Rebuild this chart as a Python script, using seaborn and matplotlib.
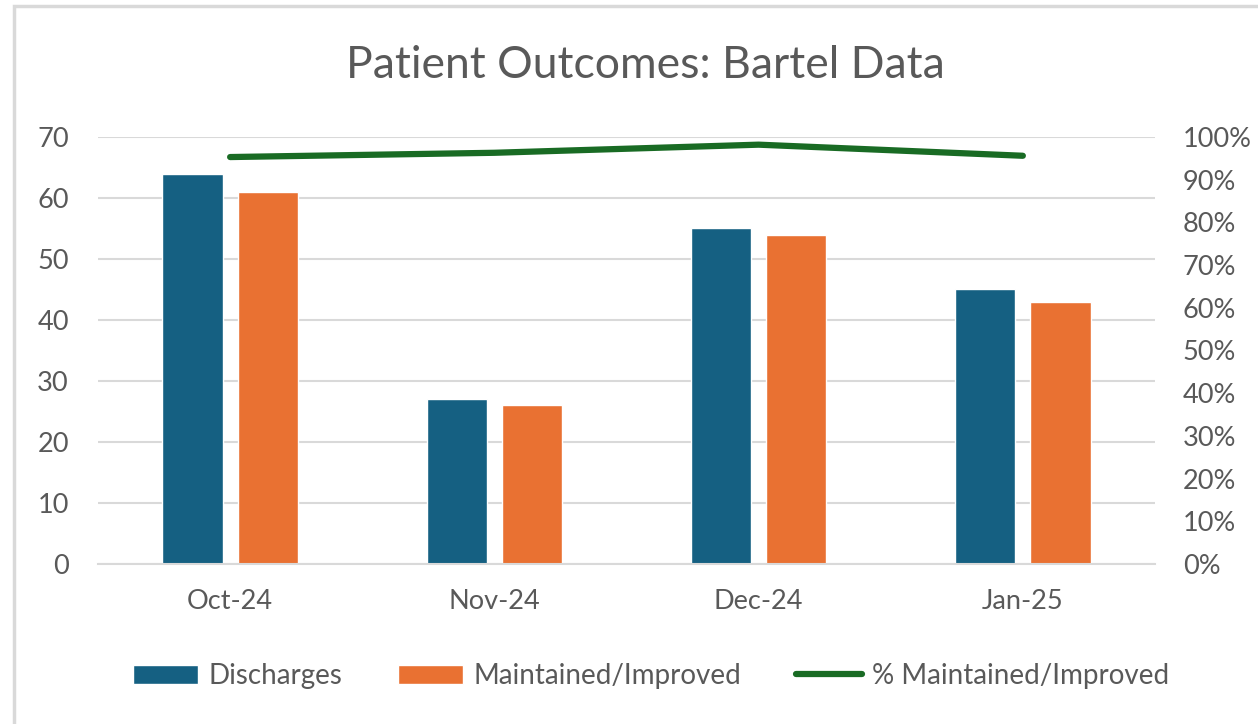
import pandas as pd
import matplotlib.pyplot as plt
import seaborn as sns
from matplotlib.patches import Rectangle, Patch
from matplotlib.lines import Line2D
from matplotlib.ticker import PercentFormatter, FixedLocator

# dados do gráfico
meses = ['Oct-24', 'Nov-24', 'Dec-24', 'Jan-25']
discharges = [64, 27, 55, 45]
maintained = [61, 26, 54, 43]
pct_maintained = [0.953, 0.963, 0.982, 0.956]

AZUL = '#156082'
LARANJA = '#E97132'
VERDE = '#196B24'
CINZA_TXT = '#595959'
CINZA_GRID = '#D9D9D9'

sns.set_theme(style='white')
plt.rcParams['font.family'] = ['Lato', 'DejaVu Sans']

df = pd.DataFrame({
    'Mes': meses * 2,
    'Valor': discharges + maintained,
    'Serie': ['Discharges'] * 4 + ['Maintained/Improved'] * 4,
})

fig = plt.figure(figsize=(12.58, 7.24), dpi=100)
ax = fig.add_axes([0.0779, 0.2210, 0.8402, 0.5898])

sns.barplot(data=df, x='Mes', y='Valor', hue='Serie', order=meses,
            palette={'Discharges': AZUL, 'Maintained/Improved': LARANJA},
            width=0.57, gap=0.2, saturation=1, ax=ax, legend=False)

ax.set_ylim(0, 70)
ax.set_xlim(-0.5, 3.5)
ax.set_yticks(range(0, 71, 10))
ax.set_xlabel('')
ax.set_ylabel('')
ax.yaxis.grid(True, color=CINZA_GRID, linewidth=1.5)
ax.set_axisbelow(True)
for lado in ['top', 'left', 'right']:
    ax.spines[lado].set_visible(False)
ax.spines['bottom'].set_color(CINZA_GRID)
ax.spines['bottom'].set_linewidth(1.5)
ax.tick_params(axis='y', length=0, pad=21, labelsize=19.5, labelcolor=CINZA_TXT)
ax.tick_params(axis='x', which='major', length=0, pad=18, labelsize=19.5, labelcolor=CINZA_TXT)
ax.xaxis.set_minor_locator(FixedLocator([-0.5, 0.5, 1.5, 2.5, 3.5]))
ax.tick_params(axis='x', which='minor', length=7, width=1.5, color=CINZA_GRID, direction='out')

# eixo secundário com a percentagem
ax2 = ax.twinx()
sns.lineplot(x=list(range(4)), y=pct_maintained, color=VERDE, linewidth=4.5,
             solid_capstyle='round', ax=ax2)
ax2.set_ylim(0, 1)
ax2.set_yticks([i / 10 for i in range(11)])
ax2.yaxis.set_major_formatter(PercentFormatter(1.0, decimals=0))
ax2.tick_params(axis='y', length=0, pad=20, labelsize=19.5, labelcolor=CINZA_TXT)
for lado in ['top', 'left', 'right', 'bottom']:
    ax2.spines[lado].set_visible(False)
ax2.grid(False)

fig.text(0.513, 0.91, 'Patient Outcomes: Bartel Data', ha='center', va='center',
         fontsize=32, color=CINZA_TXT)

handles = [
    Patch(facecolor=AZUL, label='Discharges'),
    Patch(facecolor=LARANJA, label='Maintained/Improved'),
    Line2D([0], [0], color=VERDE, linewidth=4.5, solid_capstyle='round',
           label='% Maintained/Improved'),
]
leg = fig.legend(handles=handles, loc='center', bbox_to_anchor=(0.5175, 0.066), ncol=3,
                 frameon=False, fontsize=20, handlelength=2.35, handleheight=0.72,
                 handletextpad=0.36, columnspacing=2.0)
for t in leg.get_texts():
    t.set_color(CINZA_TXT)

# moldura do gráfico
fig.patches.append(Rectangle((0.011, -0.01), 1.0, 1.0017, transform=fig.transFigure,
                             fill=False, edgecolor=CINZA_GRID, linewidth=2.5))

fig.savefig('out.png', dpi=100)
